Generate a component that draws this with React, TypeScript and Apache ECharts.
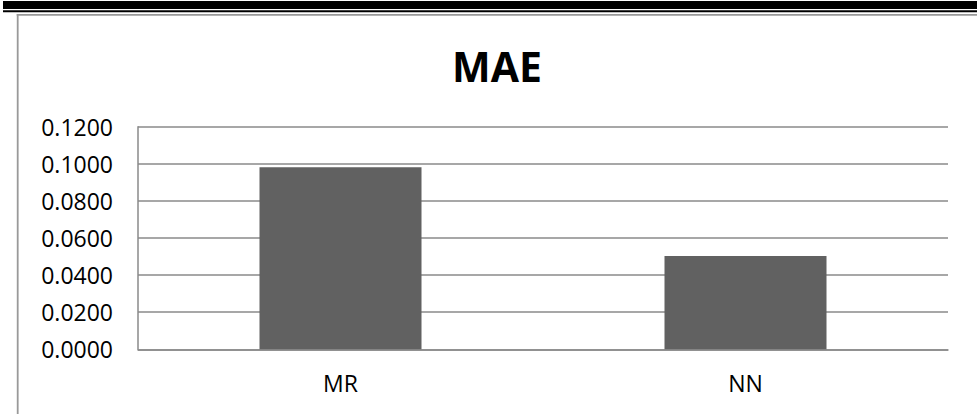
import React, { useEffect, useRef } from "react";
import * as echarts from "echarts";

const categories = ["MR", "NN"];
const maeValues = [0.0981, 0.0503];
const chartTitle = "MAE";

export default function App() {
  const ref = useRef<HTMLDivElement>(null);
  useEffect(() => {
    if (!ref.current) return;
    const chart = echarts.init(ref.current, null, { renderer: "svg" });
    const gridColor = "#8a8a8a";
    chart.setOption({
      animation: false,
      backgroundColor: "#ffffff",
      title: {
        text: chartTitle,
        left: 497,
        top: 45,
        padding: 0,
        textAlign: "center",
        textStyle: {
          fontFamily: "Open Sans",
          fontWeight: "bold",
          fontSize: 41,
          color: "#000000",
        },
      },
      grid: { left: 138, right: 29, top: 126.7, bottom: 64.7, containLabel: false },
      xAxis: {
        type: "category",
        data: categories,
        axisLine: { show: true, lineStyle: { color: gridColor, width: 1.5 } },
        axisTick: { show: false },
        axisLabel: {
          margin: 22,
          fontFamily: "Open Sans",
          fontSize: 23,
          color: "#000000",
        },
      },
      yAxis: {
        type: "value",
        min: 0,
        max: 0.12,
        interval: 0.02,
        axisLine: { show: true, lineStyle: { color: gridColor, width: 1.5 } },
        axisTick: { show: false },
        splitLine: { show: true, lineStyle: { color: gridColor, width: 1.5 } },
        axisLabel: {
          margin: 25,
          fontFamily: "Open Sans",
          fontSize: 23,
          color: "#000000",
          formatter: (v: number) => v.toFixed(4),
        },
      },
      series: [
        {
          type: "bar",
          data: maeValues,
          barWidth: "40%",
          itemStyle: { color: "#616161" },
        },
      ],
      graphic: [
        { type: "rect", shape: { x: 3, y: 1, width: 974, height: 8 }, style: { fill: "#000000" } },
        { type: "rect", shape: { x: 3, y: 10.3, width: 974, height: 2 }, style: { fill: "#000000" } },
        { type: "line", shape: { x1: 16.7, y1: 14.8, x2: 977, y2: 14.8 }, style: { stroke: "#999999", lineWidth: 1.8 } },
        { type: "line", shape: { x1: 17.7, y1: 14, x2: 17.7, y2: 414 }, style: { stroke: "#999999", lineWidth: 1.8 } },
      ],
    });
    return () => chart.dispose();
  }, []);
  return (
    <div
      ref={ref}
      style={{ position: "absolute", left: 0, top: 0, width: 977, height: 414 }}
    />
  );
}
